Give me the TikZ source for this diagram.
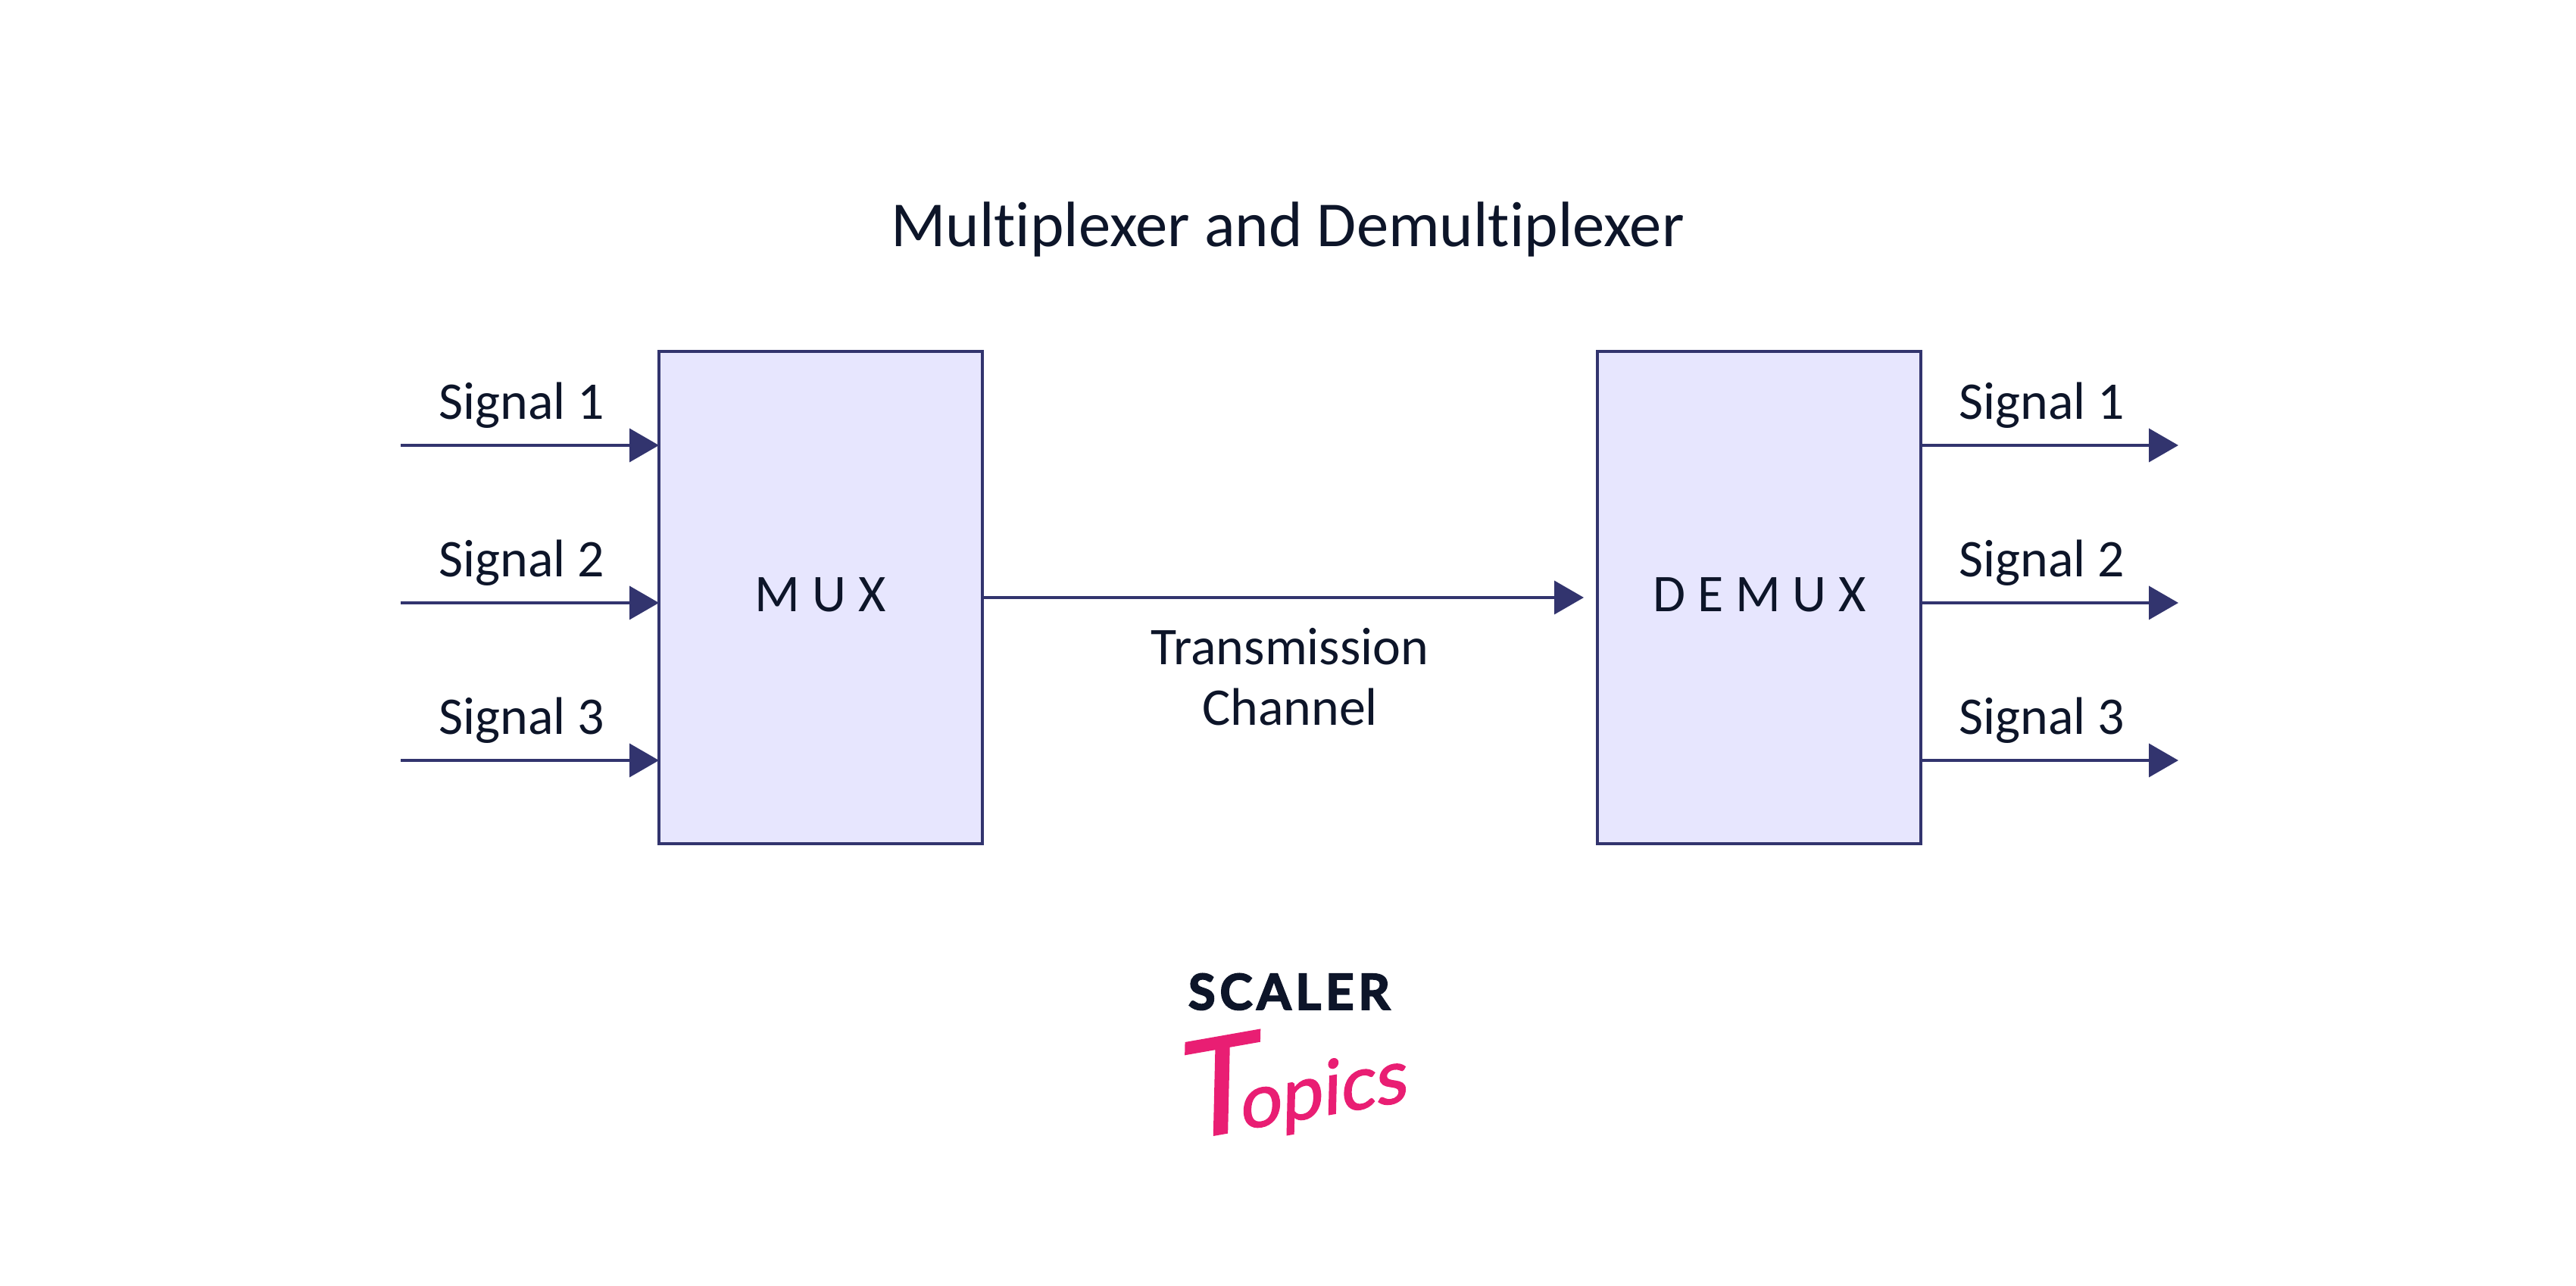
\documentclass[tikz,border=0pt]{standalone}
\usepackage{fontspec}
\setmainfont[Ligatures=NoCommon]{Carlito}
\newfontfamily\scalerfont[LetterSpace=9, BoldFeatures={FakeBold=3}]{Lato}
\newfontfamily\topicsfont[FakeSlant=0.2, FakeBold=1.5]{Lato}
\usetikzlibrary{arrows.meta}
\definecolor{linecol}{HTML}{32346E}
\definecolor{boxcol}{HTML}{E7E6FE}
\definecolor{inkcol}{HTML}{0D1529}
\definecolor{pinkcol}{HTML}{E91E73}
\begin{document}
\begin{tikzpicture}[
    every node/.style={text=inkcol, font=\fontsize{19.9}{24}\selectfont},
    block/.style={rectangle, draw=linecol, fill=boxcol, line width=1.1pt, minimum width=4.27cm, minimum height=6.5cm, inner sep=0pt, outer sep=0pt},
    label/.style={anchor=base},
    wire/.style={draw=linecol, line width=1.1pt, -{Triangle[length=0.39cm, width=0.44cm]}}
  ]
    \useasboundingbox (0, 0) rectangle (34.01, 16.98);

    % Title
    \node[label, font=\fontsize{24.1}{29}\selectfont] (title) at (17.0, 13.72) {Multiplexer and Demultiplexer};

    % Blocks
    \node[block] (mux) at (10.835, 9.09) {};
    \node[block] (demux) at (23.225, 9.09) {};
    \node[label] (muxtext) at (10.83, 8.90) {M U X};
    \node[label] (demuxtext) at (23.23, 8.90) {D E M U X};

    % Free ends of the signals
    \coordinate (in1) at (5.29, 11.10);
    \coordinate (in2) at (5.29, 9.02);
    \coordinate (in3) at (5.29, 6.94);
    \coordinate (out1) at (28.76, 11.10);
    \coordinate (out2) at (28.76, 9.02);
    \coordinate (out3) at (28.76, 6.94);

    % Input signals
    \draw[wire] (in1) -- (in1 -| mux.west);
    \draw[wire] (in2) -- (in2 -| mux.west);
    \draw[wire] (in3) -- (in3 -| mux.west);
    \node[label] (sigin1) at (6.89, 11.44) {Signal 1};
    \node[label] (sigin2) at (6.89, 9.36) {Signal 2};
    \node[label] (sigin3) at (6.89, 7.28) {Signal 3};

    % Output signals
    \draw[wire] (out1 -| demux.east) -- (out1);
    \draw[wire] (out2 -| demux.east) -- (out2);
    \draw[wire] (out3 -| demux.east) -- (out3);
    \node[label] (sigout1) at (26.96, 11.44) {Signal 1};
    \node[label] (sigout2) at (26.96, 9.36) {Signal 2};
    \node[label] (sigout3) at (26.96, 7.28) {Signal 3};

    % Channel
    \draw[wire, shorten >=0.18cm] (mux) -- (demux);
    \node[label] (chan1) at (17.03, 8.20) {Transmission};
    \node[label] (chan2) at (17.03, 7.40) {Channel};

    % Logo
    \node[label, font=\fontsize{18.5}{22}\selectfont\scalerfont\bfseries] (scaler) at (17.02, 3.65) {SCALER};
    \node[anchor=center, rotate=10, text=pinkcol, font=\fontsize{28}{34}\selectfont\topicsfont] (topics) at (17.0, 2.72) {{\fontsize{50}{54}\selectfont T}\kern-0.25cm opics};
\end{tikzpicture}
\end{document}
